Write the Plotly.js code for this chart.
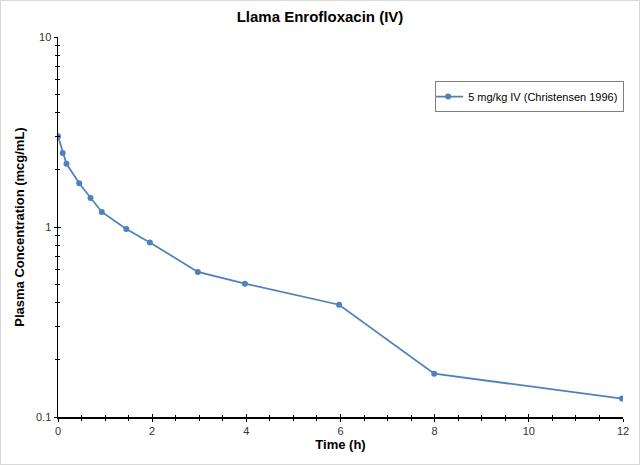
<!DOCTYPE html>
<html>
<head>
<meta charset="utf-8">
<script src="https://cdn.plot.ly/plotly-3.0.1.min.js"></script>
<style>
html,body{margin:0;padding:0;background:#fff;}
#chart{width:640px;height:465px;box-sizing:border-box;border:1px solid #d9d9d9;}
</style>
</head>
<body>
<div id="chart"></div>
<script>
const timeH = [0, 0.1, 0.18, 0.45, 0.69, 0.93, 1.45, 1.95, 2.97, 3.97, 5.97, 7.99, 11.98];
const conc = [3.0, 2.45, 2.15, 1.70, 1.42, 1.20, 0.975, 0.83, 0.58, 0.503, 0.39, 0.169, 0.125];
const seriesName = "5 mg/kg IV (Christensen 1996)";
const xMajor = [0, 2, 4, 6, 8, 10, 12];
const xMinor = [0.5,1,1.5,2.5,3,3.5,4.5,5,5.5,6.5,7,7.5,8.5,9,9.5,10.5,11,11.5];
const yMajor = [0.1, 1, 10];
const yMajorText = ["0.1", "1", "10"];
const yMinor = [0.2,0.3,0.4,0.5,0.6,0.7,0.8,0.9,2,3,4,5,6,7,8,9];

const trace = {
  x: timeH, y: conc, name: seriesName, type: "scatter", mode: "lines+markers",
  line: {color: "#4f81bd", width: 1.75},
  marker: {color: "#4f81bd", size: 6}
};
const dummy = {x: [], y: [], xaxis: "x2", yaxis: "y2", showlegend: false, type: "scatter", hoverinfo: "skip"};

function xAxis(side) {
  return {
    range: [0, 12], tickmode: "array", tickvals: xMajor, ticks: side, ticklen: 3, tickwidth: 1,
    tickcolor: "#000", showline: true, linecolor: "#000", linewidth: 1.5, showgrid: false, zeroline: false,
    minor: {tickmode: "array", tickvals: xMinor, ticks: side, ticklen: 2, tickwidth: 1, tickcolor: "#000", showgrid: false}
  };
}
function yAxis(side) {
  return {
    type: "log", range: [-1, 1], tickmode: "array", tickvals: yMajor, ticktext: yMajorText,
    ticks: side, ticklen: 3, tickwidth: 1, tickcolor: "#000",
    showline: true, linecolor: "#000", linewidth: 1.5, showgrid: false, zeroline: false,
    minor: {tickmode: "array", tickvals: yMinor, ticks: side, ticklen: 2, tickwidth: 1, tickcolor: "#000", showgrid: false}
  };
}
const xa = xAxis("outside");
xa.tickfont = {size: 11, color: "#333333"};
xa.title = {text: "<b>Time (h)</b>", font: {size: 13, color: "#000"}, standoff: 3};
const ya = yAxis("outside");
ya.tickfont = {size: 11, color: "#333333"};
ya.title = {text: "<b>Plasma Concentration (mcg/mL)</b>", font: {size: 13, color: "#000"}, standoff: 8};
const xa2 = xAxis("inside"); xa2.overlaying = "x"; xa2.showticklabels = false; xa2.side = "bottom"; xa2.anchor = "y2";
const ya2 = yAxis("inside"); ya2.overlaying = "y"; ya2.showticklabels = false; ya2.side = "left"; ya2.anchor = "x2";

const layout = {
  width: 638, height: 463,
  margin: {l: 57, r: 16, t: 36, b: 47},
  paper_bgcolor: "#fff", plot_bgcolor: "#fff",
  font: {family: "Liberation Sans, Arial, sans-serif", color: "#333333", size: 11},
  title: {text: "<b>Llama Enrofloxacin (IV)</b>", x: 0.5, xanchor: "center", y: 0.965, yanchor: "middle",
          font: {size: 15, color: "#000"}},
  xaxis: xa, yaxis: ya, xaxis2: xa2, yaxis2: ya2,
  showlegend: true,
  legend: {x: 1.002, y: 0.884, xanchor: "right", yanchor: "top", bordercolor: "#7f7f7f", borderwidth: 1,
           bgcolor: "#fff", font: {size: 11, color: "#000"}, itemwidth: 30, tracegroupgap: 0,
           indentation: -8}
};
Plotly.newPlot("chart", [trace, dummy], layout, {displayModeBar: false, staticPlot: true});
</script>
</body>
</html>
